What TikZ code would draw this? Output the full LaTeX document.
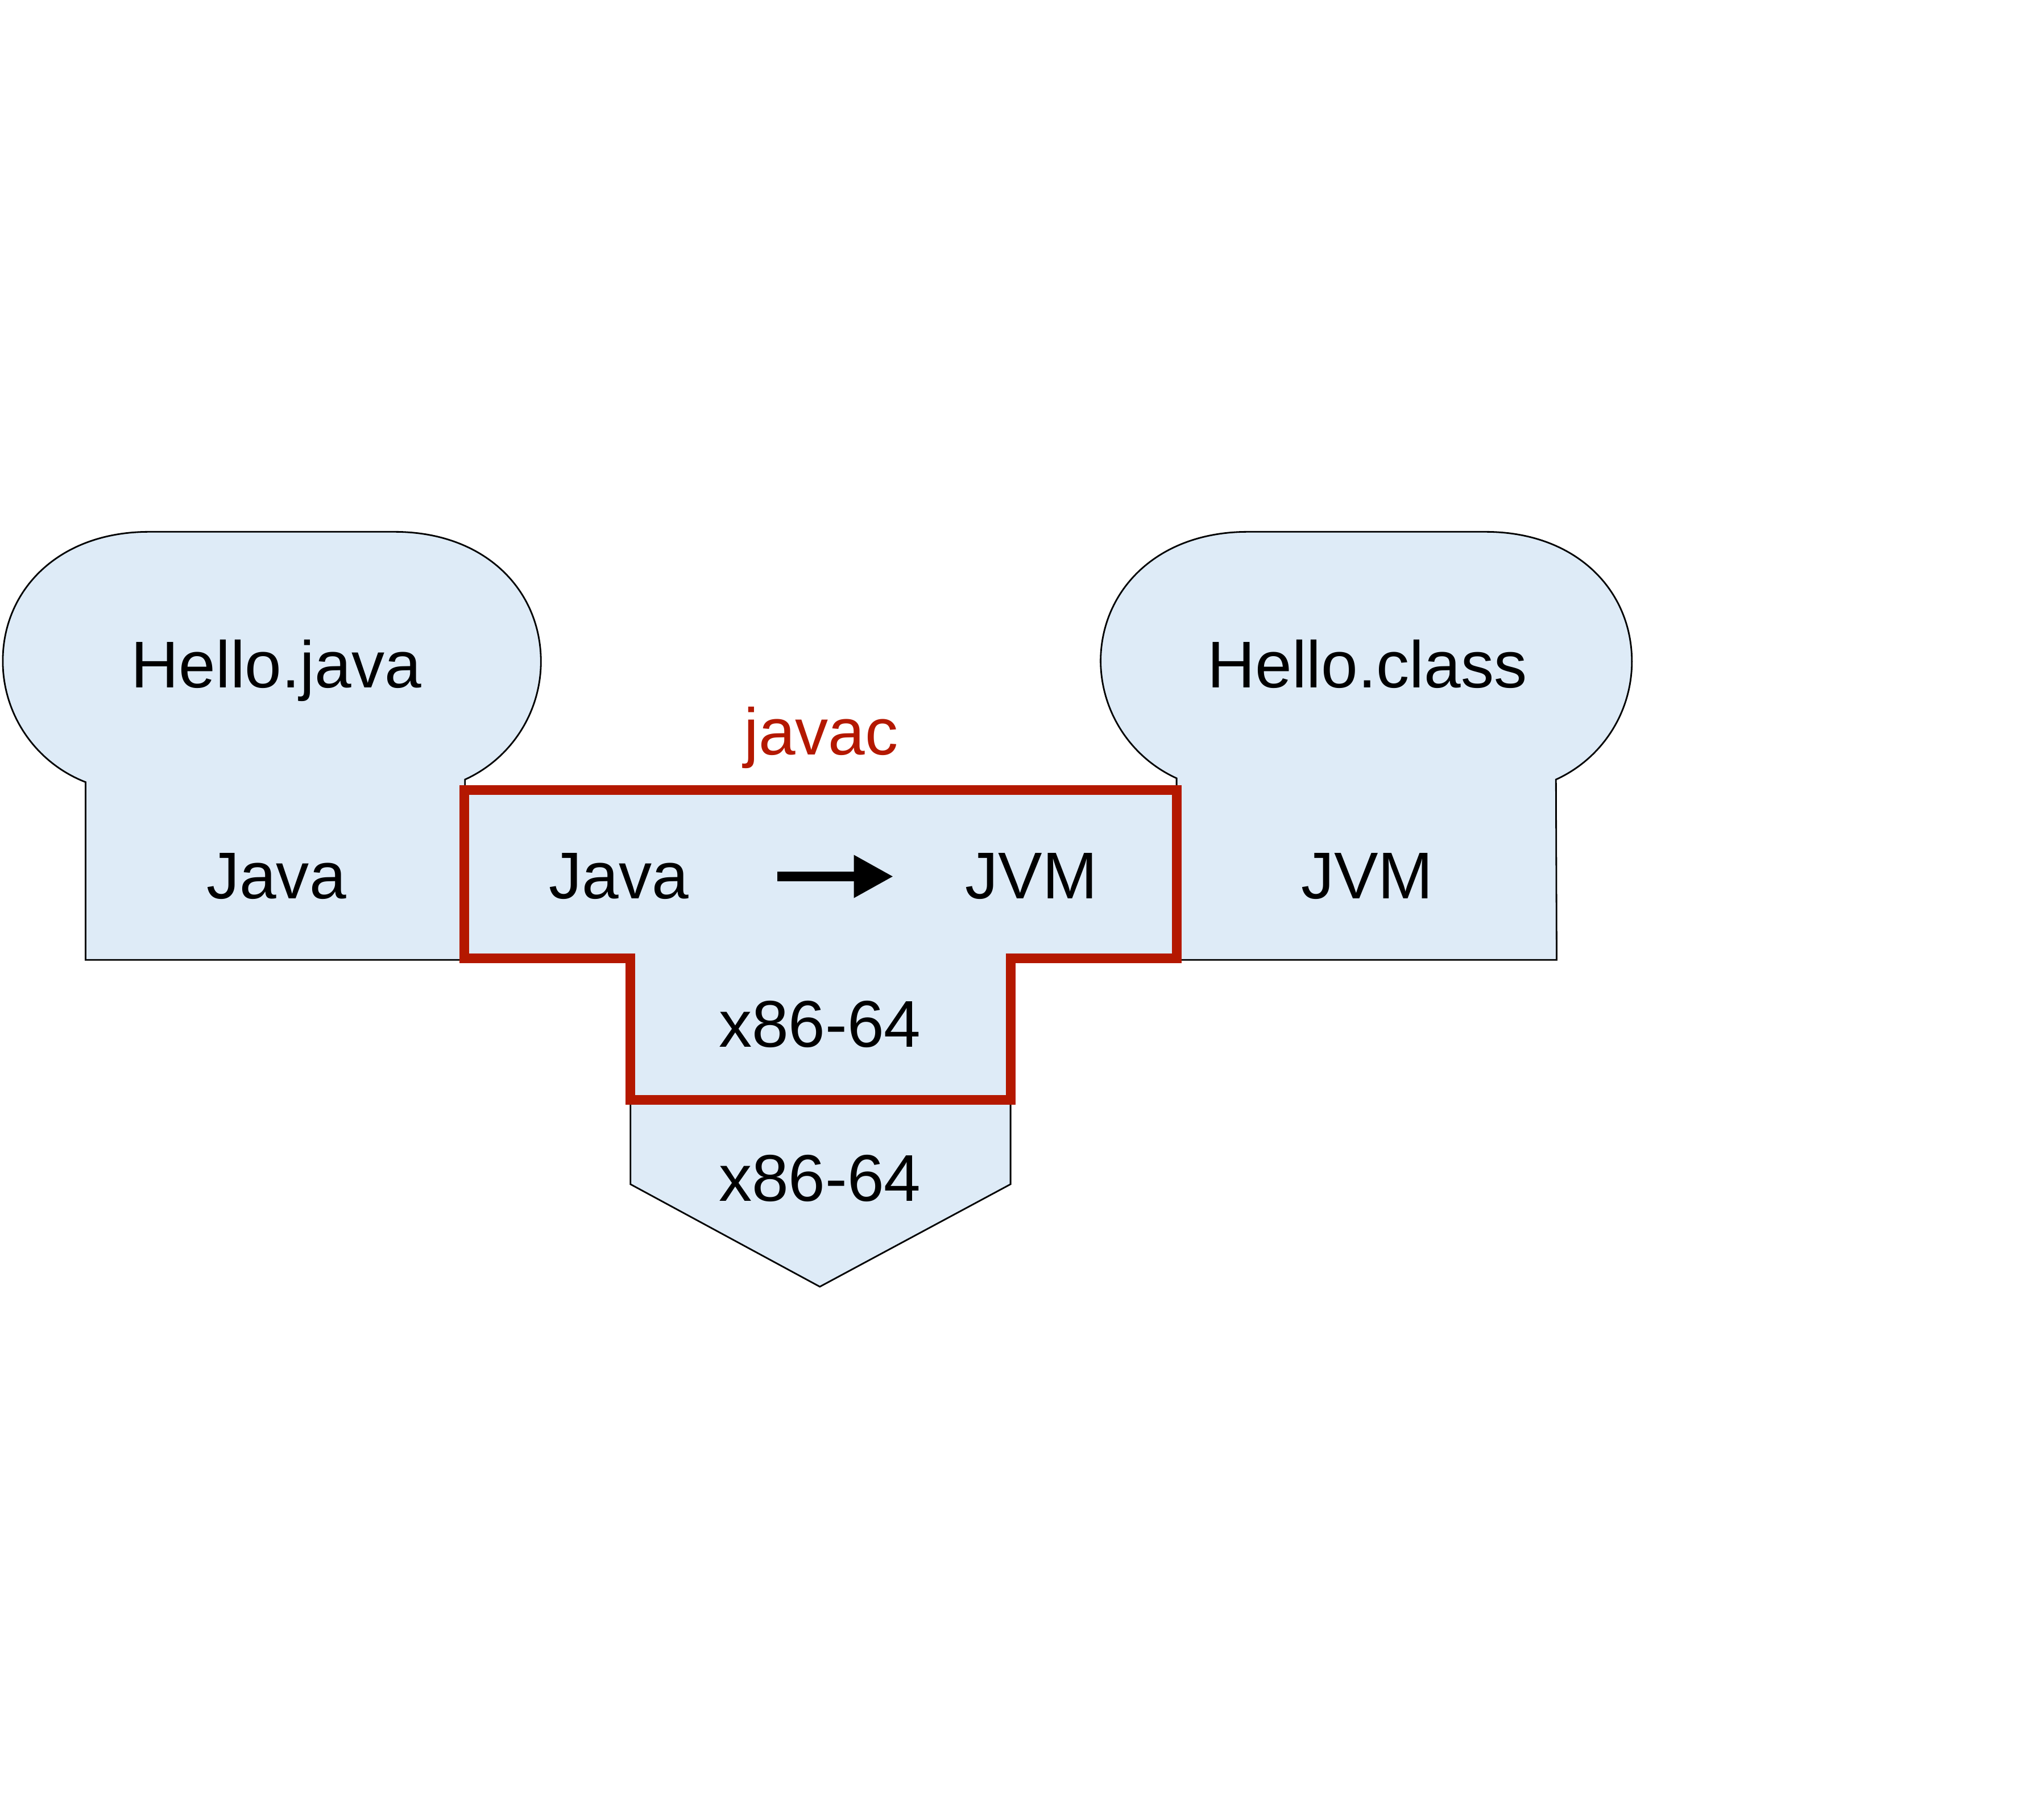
\documentclass[tikz,border=0pt]{standalone}
\usepackage{fontspec}
\setmainfont{Liberation Sans}
\usetikzlibrary{arrows.meta}
\definecolor{fileblue}{RGB}{222,235,247}
\definecolor{javacred}{RGB}{180,24,0}
\begin{document}
\begin{tikzpicture}[
  x=0.02cm, y=-0.02cm,
  every node/.style={font=\fontsize{29}{35}\selectfont, inner sep=0pt, anchor=base},
  filebox/.style={draw, line width=0.7pt, fill=fileblue},
  compiler/.style={draw=javacred, line width=0.15cm, fill=fileblue},
  arrow/.style={-{Triangle[length=0.61cm,width=0.62cm]}, line width=0.15cm}
]
\useasboundingbox (0,0) rectangle (1568,1403);
\draw[filebox] (66,603) arc[start angle=111.2, end angle=180, radius=100]
  .. controls (2,455) and (45,410) .. (115,410) -- (304,410)
  .. controls (374,410) and (417,455) .. (417,510)
  arc[start angle=0, end angle=65.5, radius=100]
  -- (358,740) -- (66,740) -- cycle;
\draw[filebox] (907,600) arc[start angle=114.5, end angle=180, radius=100]
  .. controls (849,455) and (892,410) .. (962,410) -- (1145,410)
  .. controls (1215,410) and (1258,455) .. (1258,510)
  arc[start angle=0, end angle=65.5, radius=100]
  -- (1200,740) -- (907,740) -- cycle;
\draw[filebox] (486,848) -- (486,913) -- (632,992) -- (779,913) -- (779,848) -- cycle;
\draw[compiler] (358,609) -- (907,609) -- (907,739) -- (779,739) -- (779,848)
  -- (486,848) -- (486,739) -- (358,739) -- cycle;
\node (hellojava) at (213,530) {Hello.java};
\node (srclang) at (213,693) {Java};
\node (hellocls) at (1054,530) {Hello.class};
\node (clslang) at (1054,693) {JVM};
\node[text=javacred] (javac) at (633,582) {javac};
\node (tjava) at (477,693) {Java};
\node (tjvm) at (795,693) {JVM};
\node (tarch) at (632,807) {x86-64};
\node (hostarch) at (632,926) {x86-64};
\draw[arrow, shorten <=1.36cm, shorten >=1.1cm] (tjava) -- (tjvm);
\end{tikzpicture}
\end{document}
